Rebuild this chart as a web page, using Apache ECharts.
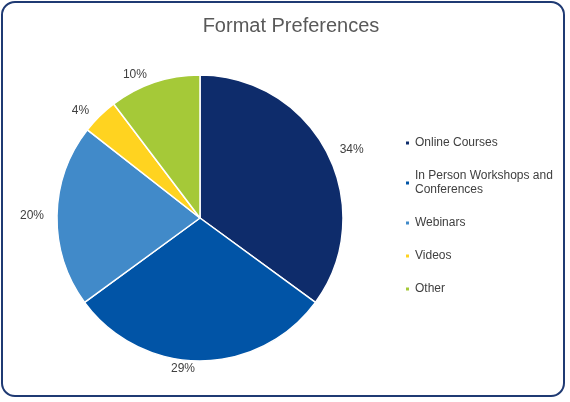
<!DOCTYPE html>
<html><head><meta charset="utf-8">
<script src="https://cdn.jsdelivr.net/npm/echarts@6/dist/echarts.min.js"></script>
<style>html,body{margin:0;padding:0;background:#fff}
#c{position:absolute;left:1px;top:1px;width:564px;height:396px;border:2px solid #1F3A73;border-radius:14px;box-sizing:border-box}</style>
</head><body><div id="c"></div>
<script>
const categories=["Online Courses","In Person Workshops and\nConferences","Webinars","Videos","Other"];
const values=[34,29,20,4,10];
const colors=["#0E2C6B","#0154A6","#418AC9","#FFD320","#A5C938"];
const chart=echarts.init(document.getElementById('c'));
chart.setOption({
 animation:false,
 title:{text:"Format Preferences",left:283,top:8,textAlign:'center',textStyle:{fontFamily:'Liberation Sans',fontWeight:'normal',fontSize:20,color:'#595959'}},
 legend:{orient:'vertical',left:396,top:128,itemWidth:5,itemHeight:5,icon:'rect',itemGap:19,
  textStyle:{fontFamily:'Liberation Sans',fontSize:12,color:'#404040',lineHeight:14},
  data:categories},
 series:[{type:'pie',center:[197,215],radius:[0,143],startAngle:90,clockwise:true,
  itemStyle:{borderColor:'#fff',borderWidth:1.5},
  label:{show:true,position:'outside',formatter:'{c}%',fontFamily:'Liberation Sans',fontSize:12,color:'#404040'},
  labelLine:{show:false,length:8,length2:0},
  data:categories.map((n,i)=>({name:n,value:values[i],itemStyle:{color:colors[i]}}))}]
});
</script></body></html>
